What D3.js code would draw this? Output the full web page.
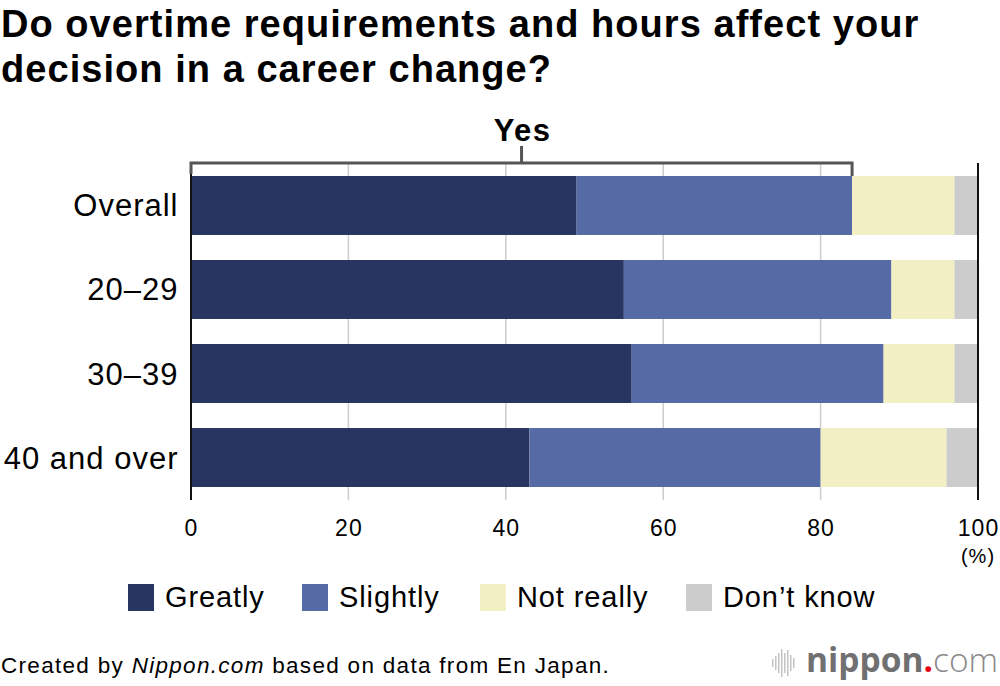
<!DOCTYPE html>
<html><head><meta charset="utf-8">
<script src="https://cdn.jsdelivr.net/npm/d3@7/dist/d3.min.js"></script>
<style>body{margin:0;background:#fff;} svg{display:block;font-family:"Liberation Sans",Arial,Helvetica,sans-serif;}</style>
</head><body>
<svg id="c" width="1000" height="686"></svg>
<script>
const categories = ["Overall","20–29","30–39","40 and over"];
const seriesNames = ["Greatly","Slightly","Not really","Don’t know"];
const greatly   = [49,55,56,43];
const slightly  = [35,34,32,37];
const notReally = [13,8,9,16];
const dontKnow  = [3,3,3,4];
const xTicks = [0,20,40,60,80,100];
const yesValue = 84;
const colors = ["#273560","#566ba5","#f2efc5","#cccccc"];

const svg = d3.select("#c");
const x = d3.scaleLinear().domain([0,100]).range([191,978]);
const y = d3.scaleBand().domain(categories).range([176,487]).paddingInner(0.298).paddingOuter(0);

// Title
svg.append("text").attr("x",1).attr("y",37).attr("font-size",38).attr("font-weight","bold").attr("letter-spacing",1.05)
  .text("Do overtime requirements and hours affect your");
svg.append("text").attr("x",1).attr("y",82).attr("font-size",38).attr("font-weight","bold").attr("letter-spacing",1.05)
  .text("decision in a career change?");

// grid
svg.append("g").selectAll("line").data(xTicks.filter(d=>d>0&&d<100)).join("line")
  .attr("x1",d=>x(d)).attr("x2",d=>x(d)).attr("y1",163).attr("y2",500)
  .attr("stroke","#cccccc").attr("stroke-width",1.5);

const data = categories.map((c,i)=>({cat:c,Greatly:greatly[i],Slightly:slightly[i],"Not really":notReally[i],"Don’t know":dontKnow[i]}));
const stack = d3.stack().keys(seriesNames)(data);
svg.append("g").selectAll("g").data(stack).join("g").attr("fill",(d,i)=>colors[i])
  .selectAll("rect").data(d=>d).join("rect")
  .attr("x",d=>x(d[0])).attr("width",d=>x(d[1])-x(d[0]))
  .attr("y",d=>y(d.data.cat)).attr("height",y.bandwidth());

// axis lines 0 and 100
[0,100].forEach(v=>{
  svg.append("line").attr("x1",x(v)).attr("x2",x(v)).attr("y1",v===0?170:163).attr("y2",500)
    .attr("stroke","#111").attr("stroke-width",2);
});

// x tick labels
svg.append("g").selectAll("text").data(xTicks).join("text")
  .attr("x",d=>x(d)+0.5).attr("y",536).attr("text-anchor","middle").attr("font-size",23).attr("letter-spacing",1.0)
  .text(d=>d);
svg.append("text").attr("x",x(100)).attr("y",563).attr("text-anchor","middle").attr("font-size",20).attr("letter-spacing",1).text("(%)");

// category labels
svg.append("g").selectAll("text").data(categories).join("text")
  .attr("x",178.5).attr("y",d=>y(d)+y.bandwidth()/2+11).attr("text-anchor","end").attr("font-size",31).attr("letter-spacing",1.0)
  .text(d=>d);

// Yes bracket
const bx0 = x(0), bx1 = x(yesValue), by = 163, mid = (bx0+bx1)/2;
svg.append("path").attr("d",`M${bx0},174V${by}H${bx1}V176`).attr("fill","none")
  .attr("stroke","#555").attr("stroke-width",3);
svg.append("line").attr("x1",mid).attr("x2",mid).attr("y1",146).attr("y2",by)
  .attr("stroke","#555").attr("stroke-width",3);
svg.append("text").attr("x",mid+1).attr("y",141).attr("text-anchor","middle").attr("font-size",31)
  .attr("font-weight","bold").attr("letter-spacing",1.4).text("Yes");

// legend
const legX = [128,302,480,686];
const lg = svg.append("g");
seriesNames.forEach((s,i)=>{
  lg.append("rect").attr("x",legX[i]).attr("y",584).attr("width",26).attr("height",27).attr("fill",colors[i]);
  lg.append("text").attr("x",legX[i]+37).attr("y",607).attr("font-size",29).attr("letter-spacing",0.9).text(s);
});

// footer
const ft = svg.append("text").attr("x",1).attr("y",673).attr("font-size",22.5).attr("letter-spacing",1.3);
ft.append("tspan").text("Created by ");
ft.append("tspan").attr("font-style","italic").text("Nippon.com");
ft.append("tspan").text(" based on data from En Japan.");

// logo
const logo = svg.append("g");
const bars = [8,14,20,28,20,26,16,10];
bars.forEach((h,i)=>{
  logo.append("rect").attr("x",772+i*3).attr("y",663-h/2).attr("width",1.5).attr("height",h).attr("fill","#c4c4c4");
});
const lt = svg.append("text").attr("x",806).attr("y",672).attr("font-size",33.5).attr("fill","#707070")
  .attr("font-family","'Open Sans','DejaVu Sans',sans-serif");
lt.append("tspan").attr("font-weight","bold").text("nippon");
lt.append("tspan").attr("fill","#e60012").attr("font-weight","bold").text(".");
lt.append("tspan").attr("font-weight","300").attr("fill","#8a8a8a").text("com");
</script>
</body></html>
